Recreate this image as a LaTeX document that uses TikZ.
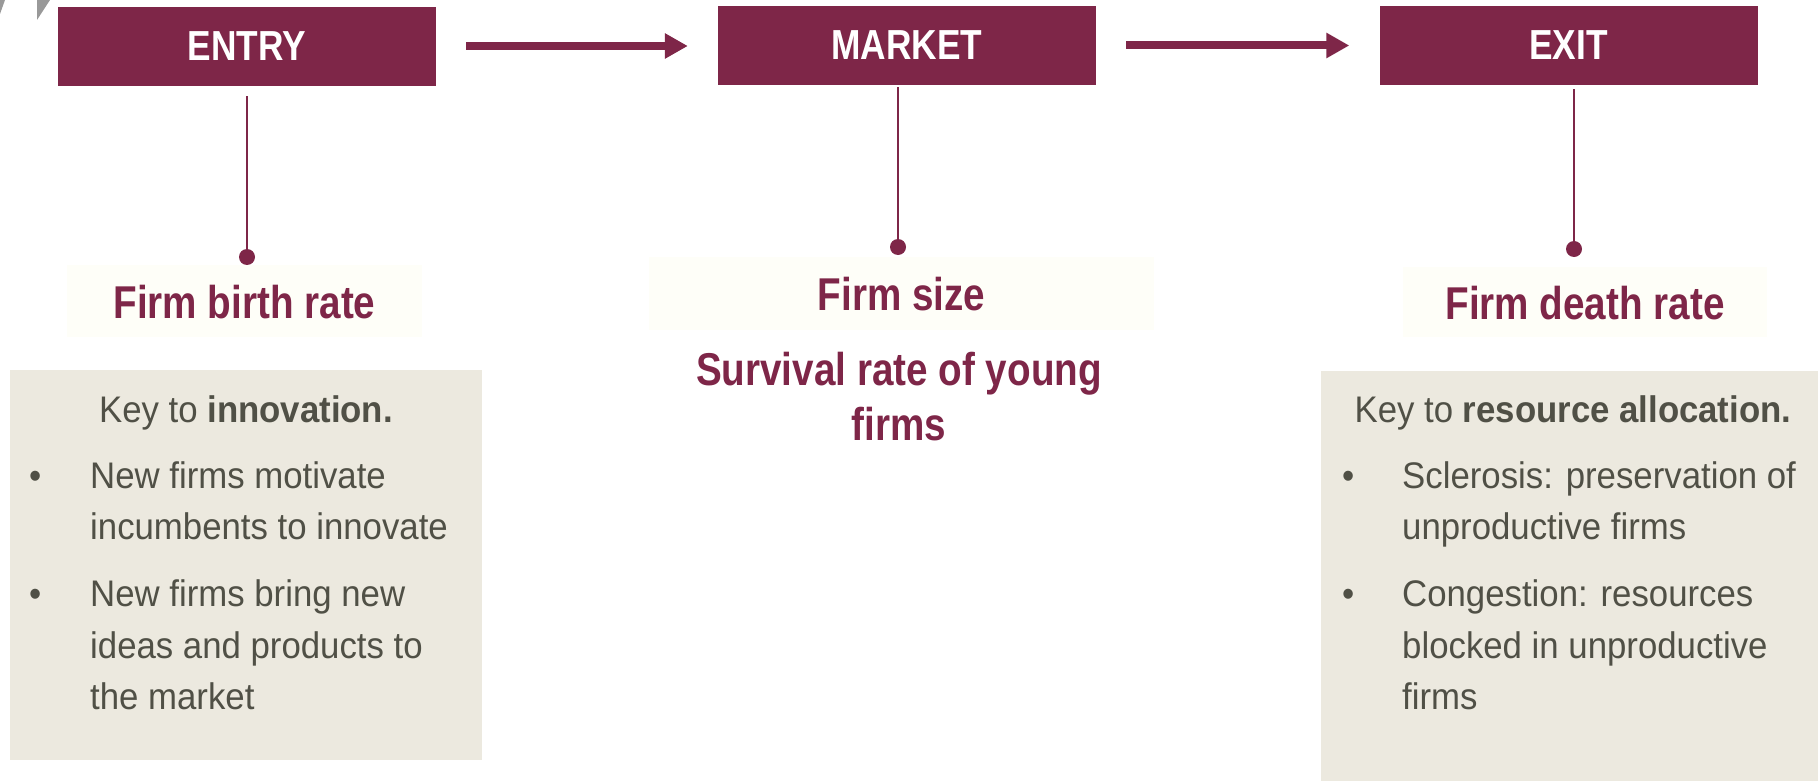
\documentclass[tikz,border=0pt]{standalone}
\usepackage{fontspec}
\setmainfont{Liberation Sans}[FakeStretch=0.94]
\newfontfamily\headfont{Liberation Sans}[FakeStretch=0.84]
\usetikzlibrary{positioning, arrows.meta}

\definecolor{wine}{RGB}{126,38,72}
\definecolor{sand}{RGB}{236,233,223}
\definecolor{ink}{RGB}{80,80,70}
\definecolor{paper}{RGB}{254,254,248}

\begin{document}
\begin{tikzpicture}[x=1pt, y=-1pt,
	stage/.style={fill=wine, text=white, minimum width=378pt, minimum height=79pt, inner sep=0pt,
		font=\headfont\bfseries\fontsize{42}{46}\selectfont},
	flow/.style={wine, line width=8pt, shorten <=30pt, shorten >=30pt,
		-{Triangle[length=23pt, width=24pt]}},
	stem/.style={wine, line width=2.5pt},
	tag/.style={fill=paper, text=wine, inner sep=0pt, text height=35pt,
		font=\headfont\bfseries\fontsize{46}{55}\selectfont},
	panel/.style={fill=sand, inner sep=0pt, anchor=north west},
	keyline/.style={anchor=base, text=ink, inner sep=0pt, font=\fontsize{37}{51.5}\selectfont},
	points/.style={anchor=base west, inner sep=0pt, text=ink,
		font=\fontsize{37}{51.5}\selectfont}]
\useasboundingbox (0,0) rectangle (1818,781);

% cut-off corner pieces
\fill[gray!80] (37,0) -- (50,0) -- (37,20) -- cycle;
\fill[gray!80] (0,0) -- (5,0) -- (0,14) -- cycle;

% the three stages
\node[stage] (entry) at (247,46.5) {ENTRY};
\node[stage] (market) at (907,45.5) {MARKET};
\node[stage] (exit) at (1568.5,45.5) {EXIT};
\draw[flow] (entry.east |- 0,46) -- (market.west |- 0,46);
\draw[flow] (market) -- (exit);

% stems with a dot at the foot
\foreach \s/\x/\y/\g in {entry/247/257/10, market/898/247/2, exit/1574/249/4} {
	\coordinate (\s-dot) at (\x,\y);
	\draw[stem, shorten >=\g pt] (\s-dot) -- (\s-dot |- \s.south);
	\fill[wine] (\s-dot) circle (8);
}

% indicators
\node[tag, minimum width=355pt, minimum height=72pt] (birth) at (244.5,301) {Firm birth rate};
\node[tag, minimum width=505pt, minimum height=73pt] (size) at (901.5,293.5) {Firm size};
\node[tag, fill=none, text height=, align=center, anchor=north] (survival) at (899,352) {Survival rate of young\\firms};
\node[tag, minimum width=364pt, minimum height=70pt] (death) at (1585,302) {Firm death rate};

% explanations
\node[panel, minimum width=472pt, minimum height=390pt] (panelL) at (10,370) {};
\node[panel, minimum width=497pt, minimum height=410pt] (panelR) at (1321,371) {};
\node[keyline] (keyL) at (246,422) {Key to \textbf{innovation.}};
\node[keyline] (keyR) at (1573,422) {Key to \textbf{resource allocation.}};
\node[points] (listL) at (29,488) {\begin{tabular}[t]{@{}p{61pt}@{}l@{}}
	\textbullet & New firms motivate\\
	            & incumbents to innovate\\[15.5pt]
	\textbullet & New firms bring new\\
	            & ideas and products to\\
	            & the market
\end{tabular}};
\node[points] (listR) at (1342,488) {\begin{tabular}[t]{@{}p{60pt}@{}l@{}}
	\textbullet & Sclerosis: preservation of\\
	            & unproductive firms\\[15.5pt]
	\textbullet & Congestion: resources\\
	            & blocked in unproductive\\
	            & firms
\end{tabular}};
\end{tikzpicture}
\end{document}
